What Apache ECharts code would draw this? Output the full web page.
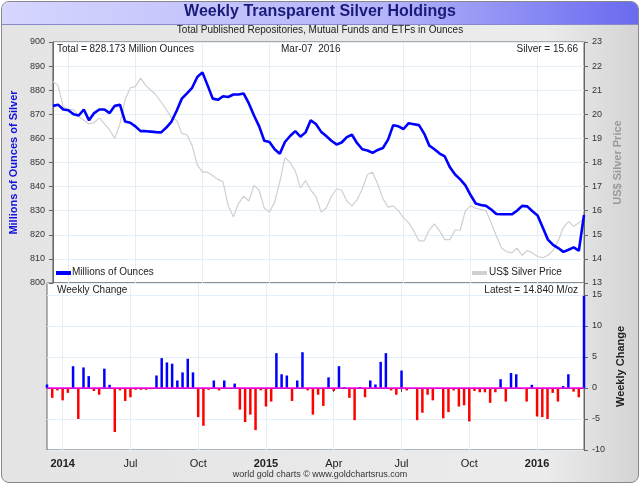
<!DOCTYPE html>
<html>
<head>
<meta charset="utf-8">
<script src="https://cdn.jsdelivr.net/npm/echarts@6/dist/echarts.min.js"></script>
<style>
body { margin: 0; background: #fff; }
#frame { position: absolute; left: 1px; top: 1px; width: 636px; height: 480px; border: 1px solid #888; border-radius: 8px;
  background: linear-gradient(to right, #e4e4e4 0%, #ececec 85%, #d4d4d4 100%); overflow: hidden; }
#bar { position: absolute; left: 0; top: 0; width: 636px; height: 22px; background: linear-gradient(to right, #d6d6ff, #b4b4fa 60%, #6a6af0); border-bottom: 1px solid #8888cc; }
#chart { position: absolute; left: 0; top: 0; width: 640px; height: 484px; }
</style>
</head>
<body>
<div id="frame"><div id="bar"></div></div>
<div id="chart"></div>
<script>
// 每周持仓（百万盎司）
var holdings = [873.5, 874, 872, 871.7, 870, 869.5, 872, 867.5, 870.5, 872, 872, 870.5, 873.5, 874, 867, 866.5, 865, 863, 863, 862.8,
  862.6, 862.5, 864.5, 867, 871.5, 876.5, 878.7, 881, 885.5, 887.4, 882, 876.5, 876, 877.5, 877.2, 878.2, 878.2, 878.6, 874.5, 869.5,
  865, 859, 858.5, 855.5, 853.6, 858.5, 861, 863, 860.7, 862.5, 867.5, 866, 862.8, 861, 859, 857.5, 858.3, 860.5, 861.5, 858,
  855.5, 855, 854, 855.2, 856, 859.5, 865.5, 865, 863.9, 866.3, 865.9, 865.5, 862, 857, 855.5, 853.7, 852.5, 848, 845, 843,
  840.5, 836.5, 833, 832.4, 832, 830.5, 828.6, 828.5, 828.5, 828.5, 830, 832, 831.8, 829.8, 828, 823, 818, 815.8, 814.5, 812.9,
  813.8, 814.8, 813.4, 828.2];
// 银价
var silver = [21.36, 21.2, 20.3, 20.2, 20.2, 19.9, 19.75, 19.6, 19.65, 19.85, 19.6, 19.35, 19.0, 19.6, 20.6, 21.1, 21.15, 21.5, 21.2, 21.0,
  20.8, 20.5, 20.2, 19.85, 19.75, 19.2, 19.15, 18.7, 17.9, 17.6, 17.6, 17.45, 17.3, 17.2, 16.2, 15.75, 16.3, 16.6, 16.4, 17.05,
  16.85, 16.1, 15.95, 16.35, 17.2, 18.2, 18.0, 17.65, 16.95, 17.25, 16.85, 16.6, 15.95, 16.1, 16.6, 16.9, 16.85, 16.4, 16.2, 16.45,
  16.9, 17.5, 17.6, 17.1, 16.5, 16.15, 16.2, 16.0, 15.7, 15.5, 15.15, 14.75, 14.75, 15.2, 15.45, 15.15, 14.8, 14.8, 15.2, 15.2,
  16.0, 16.2, 16.1, 16.05, 16.0, 15.5, 14.95, 14.45, 14.3, 14.25, 14.45, 14.15, 14.35, 14.25, 14.1, 14.05, 14.15, 14.35, 14.75, 15.3,
  15.55, 15.35, 15.5, 15.66];
// 每周变化
var change = [0.55, -1.6, -0.4, -2.0, -0.8, 3.5, -5.0, 3.3, 1.9, -0.5, -1.1, 3.1, 0.5, -7.1, -0.4, -2.1, -1.5, -0.3, -0.3, -0.3,
  -0.2, 2.0, 4.8, 4.1, 3.9, 1.2, 2.5, 4.7, 2.5, -4.7, -6.1, -0.3, 1.2, -0.4, 1.2, -0.1, 0.7, -3.5, -5.5, -4.3,
  -6.8, -0.4, -3.0, -2.2, 5.6, 2.2, 2.0, -2.1, 1.2, 5.75, -0.4, -4.3, -1.1, -2.9, 1.7, -0.5, 3.5, 0.15, -1.6, -5.2,
  0.15, -1.5, 1.2, 0.55, 4.2, 5.6, -0.4, -1.1, 2.8, -0.4, 0.0, -5.2, -4.0, -1.1, -2.0, -0.15, -4.9, -3.9, -0.4, -3.0,
  -2.8, -5.4, -0.5, -0.7, -0.7, -2.4, -0.7, 1.4, -2.2, 2.4, 2.2, -0.2, -2.2, 0.5, -4.6, -4.7, -5.0, -0.8, -2.2, 0.3,
  2.2, -0.6, -1.5, 14.84];

var weeks = [];
for (var i = 0; i < change.length; i++) weeks.push(i);
var labels = { 3: '2014', 16: 'Jul', 29: 'Oct', 42: '2015', 55: 'Apr', 68: 'Jul', 81: 'Oct', 94: '2016' };
function isTick(i) { return labels[i] !== undefined; }

var gridColor = '#e2eef8';
var font = 'Liberation Sans';
function txt(o) { o.type = 'text'; o.z = 100; o.style.font = o.style.font || ('10px ' + font); o.style.fill = o.style.fill || '#222'; return o; }
var chart = echarts.init(document.getElementById('chart'));
chart.setOption({
  animation: false,
  textStyle: { fontFamily: font },
  grid: [
    { left: 47, right: 56, top: 42, height: 241, backgroundColor: '#fff', show: true, borderColor: '#666', borderWidth: 1 },
    { left: 47, right: 56, top: 283, height: 167, backgroundColor: '#fff', show: true, borderColor: '#666', borderWidth: 1 }
  ],
  xAxis: [
    { type: 'category', gridIndex: 0, data: weeks, boundaryGap: false,
      axisLine: { show: false }, axisTick: { show: false }, axisLabel: { show: false },
      splitLine: { show: true, interval: function (i) { return isTick(i); }, lineStyle: { color: gridColor } } },
    { type: 'category', gridIndex: 1, data: weeks, boundaryGap: false,
      axisLine: { lineStyle: { color: '#444' } },
      axisTick: { show: true, interval: function (i) { return isTick(i); }, inside: false, length: 4, lineStyle: { color: '#444' } },
      axisLabel: { interval: function (i) { return isTick(i); }, color: '#222', fontSize: 11,
        formatter: function (v) { var t = labels[v] || ''; return /^\d+$/.test(t) ? '{b|' + t + '}' : t; },
        rich: { b: { fontWeight: 'bold', fontSize: 11, color: '#222' } } },
      splitLine: { show: true, interval: function (i) { return isTick(i); }, lineStyle: { color: gridColor } } }
  ],
  yAxis: [
    { type: 'value', gridIndex: 0, min: 800, max: 900, interval: 10, position: 'left',
      axisLine: { show: true, lineStyle: { color: '#666' } }, axisTick: { show: true, length: 4 },
      axisLabel: { color: '#333', fontSize: 9 }, splitLine: { lineStyle: { color: gridColor } },
      name: 'Millions of Ounces of Silver', nameLocation: 'middle', nameGap: 28,
      nameTextStyle: { color: '#1010e0', fontWeight: 'bold', fontSize: 11 } },
    { type: 'value', gridIndex: 0, min: 13, max: 23, interval: 1, position: 'right',
      axisLine: { show: true, lineStyle: { color: '#666' } }, axisTick: { show: true, length: 4 },
      axisLabel: { color: '#333', fontSize: 9 }, splitLine: { show: false },
      name: 'US$ Silver Price', nameLocation: 'middle', nameGap: 24,
      nameTextStyle: { color: '#999', fontWeight: 'bold', fontSize: 11 } },
    { type: 'value', gridIndex: 1, min: -10, max: 16.9, interval: 5, position: 'right',
      axisLine: { show: true, lineStyle: { color: '#666' } }, axisTick: { show: true, length: 4 },
      axisLabel: { color: '#333', fontSize: 9, showMaxLabel: false },
      splitLine: { show: true, lineStyle: { color: gridColor } },
      name: 'Weekly Change', nameLocation: 'middle', nameGap: 22,
      nameTextStyle: { color: '#222', fontWeight: 'bold', fontSize: 11 } }
  ],
  series: [
    { name: 'US$ Silver Price', type: 'line', xAxisIndex: 0, yAxisIndex: 1, data: silver, symbol: 'none',
      lineStyle: { color: '#d0d0d0', width: 1.2 } },
    { name: 'Millions of Ounces', type: 'line', xAxisIndex: 0, yAxisIndex: 0, data: holdings, symbol: 'none',
      lineStyle: { color: '#0000ff', width: 2.6 } },
    { name: 'Weekly Change', type: 'bar', xAxisIndex: 1, yAxisIndex: 2, barWidth: 2.5,
      data: change.map(function (v) { return { value: v, itemStyle: { color: v >= 0 ? '#0000ff' : '#ff0000' } }; }),
      markLine: { symbol: 'none', silent: true, label: { show: false }, lineStyle: { color: '#ff00ff', width: 1.5, type: 'solid' },
        data: [{ yAxis: 0 }] } }
  ],
  graphic: [
    txt({ left: 'center', top: 4, style: { text: 'Weekly Transparent Silver Holdings', fill: '#1a1a7a', font: 'bold 16px ' + font } }),
    txt({ left: 'center', top: 25, style: { text: 'Total Published Repositories, Mutual Funds and ETFs in Ounces' } }),
    txt({ left: 57, top: 44, style: { text: 'Total = 828.173 Million Ounces' } }),
    txt({ left: 281, top: 44, style: { text: 'Mar-07  2016' } }),
    txt({ right: 62, top: 44, style: { text: 'Silver = 15.66' } }),
    { type: 'rect', z: 100, shape: { x: 56, y: 271, width: 15, height: 4 }, style: { fill: '#0000ff' } },
    txt({ left: 72, top: 267, style: { text: 'Millions of Ounces' } }),
    { type: 'rect', z: 100, shape: { x: 472, y: 271, width: 15, height: 4 }, style: { fill: '#d0d0d0' } },
    txt({ left: 489, top: 267, style: { text: 'US$ Silver Price' } }),
    txt({ left: 57, top: 285, style: { text: 'Weekly Change' } }),
    txt({ right: 62, top: 285, style: { text: 'Latest = 14.840 M/oz' } }),
    txt({ left: 'center', top: 470, style: { text: 'world gold charts \u00a9 www.goldchartsrus.com', fill: '#333', font: '9px ' + font } })
  ]
});
</script>
</body>
</html>
